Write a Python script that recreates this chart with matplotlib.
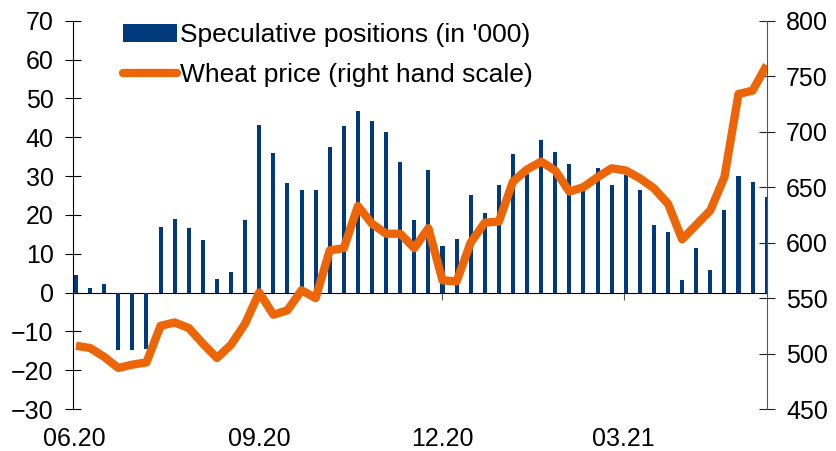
import numpy as np
import pandas as pd
import matplotlib
matplotlib.use("Agg")
import matplotlib.pyplot as plt
import matplotlib.dates as mdates
from matplotlib.patches import Patch
from matplotlib.lines import Line2D

# weekly COT report dates
weeks = pd.date_range("2020-06-02", periods=50, freq="7D")

# speculative net positions (in '000), left scale
spec_pos = [4.6, 1.2, 2.1, -14.9, -14.9, -14.6, 16.8, 19.0, 16.7, 13.5,
            3.6, 5.2, 18.6, 43.2, 36.0, 28.3, 26.4, 26.5, 37.5, 42.9,
            46.7, 44.2, 41.4, 33.7, 18.6, 31.6, 12.1, 13.9, 25.0, 20.6,
            27.7, 35.6, 30.4, 39.3, 36.2, 33.1, 27.2, 32.0, 27.6, 30.2,
            26.3, 17.3, 15.6, 3.3, 11.4, 5.8, 21.2, 30.0, 28.4, 24.6]

# wheat price, right scale
wheat = [507, 505, 497, 487, 490, 492, 525, 528, 523, 509,
         496, 508, 527, 555, 535, 539, 557, 550, 593, 595,
         633, 617, 608, 608, 595, 613, 566, 565, 600, 618,
         619, 655, 666, 673, 665, 646, 650, 659, 667, 665,
         658, 649, 635, 603, 616, 629, 659, 734, 737, 760]

tick_dates = pd.to_datetime(["2020-06-01", "2020-09-01", "2020-12-01", "2021-03-01"])

NAVY = "#003a7d"
ORANGE = "#ec6608"
FS = 18

plt.rcParams["font.family"] = ["Liberation Sans", "DejaVu Sans"]

fig = plt.figure(figsize=(8.37, 4.51), dpi=100)
ax = fig.add_axes([0.0872, 0.0931, 0.916 - 0.0872, 0.954 - 0.0931])
ax2 = ax.twinx()

ax.bar(weeks, spec_pos, width=2.0, color=NAVY, zorder=2)
ax2.plot(weeks, wheat, color=ORANGE, lw=6, solid_joinstyle="round",
         solid_capstyle="butt", zorder=3)

ax.set_ylim(-30, 70)
ax.set_yticks(np.arange(-30, 71, 10))
ax2.set_ylim(450, 800)
ax2.set_yticks(np.arange(450, 801, 50))
ax.set_xlim(pd.Timestamp("2020-05-31 12:00"), pd.Timestamp("2021-05-11"))

ax.set_xticks(tick_dates)
ax.xaxis.set_major_formatter(mdates.DateFormatter("%m.%y"))

for a in (ax, ax2):
    a.spines["top"].set_visible(False)
    a.set_facecolor("none")
ax2.spines["left"].set_visible(False)
ax2.spines["bottom"].set_visible(False)
ax.spines["right"].set_visible(False)
ax2.spines["right"].set_color("#555555")
ax.spines["bottom"].set_position(("data", 0))
ax.spines["bottom"].set_zorder(1)

ax.tick_params(axis="y", direction="inout", length=12, labelsize=FS, pad=8)
ax2.tick_params(axis="y", direction="inout", length=12, labelsize=FS, pad=8,
                color="#222222")
ax.tick_params(axis="x", direction="out", length=5, labelsize=FS, pad=92,
               color="#555555")
ax.get_xticklines()[0].set_visible(False)

handles = [Patch(facecolor=NAVY, edgecolor="none"),
           Line2D([], [], color=ORANGE, lw=6, solid_capstyle="round")]
labels = ["Speculative positions (in '000)", "Wheat price (right hand scale)"]
ax2.legend(handles, labels, loc="upper left", bbox_to_anchor=(0.147, 0.949),
           bbox_transform=fig.transFigure, frameon=False, fontsize=19,
           handlelength=2.05, handletextpad=0.12, labelspacing=0.62,
           borderaxespad=0.0, borderpad=0.0)

fig.savefig("out.png", dpi=100)
